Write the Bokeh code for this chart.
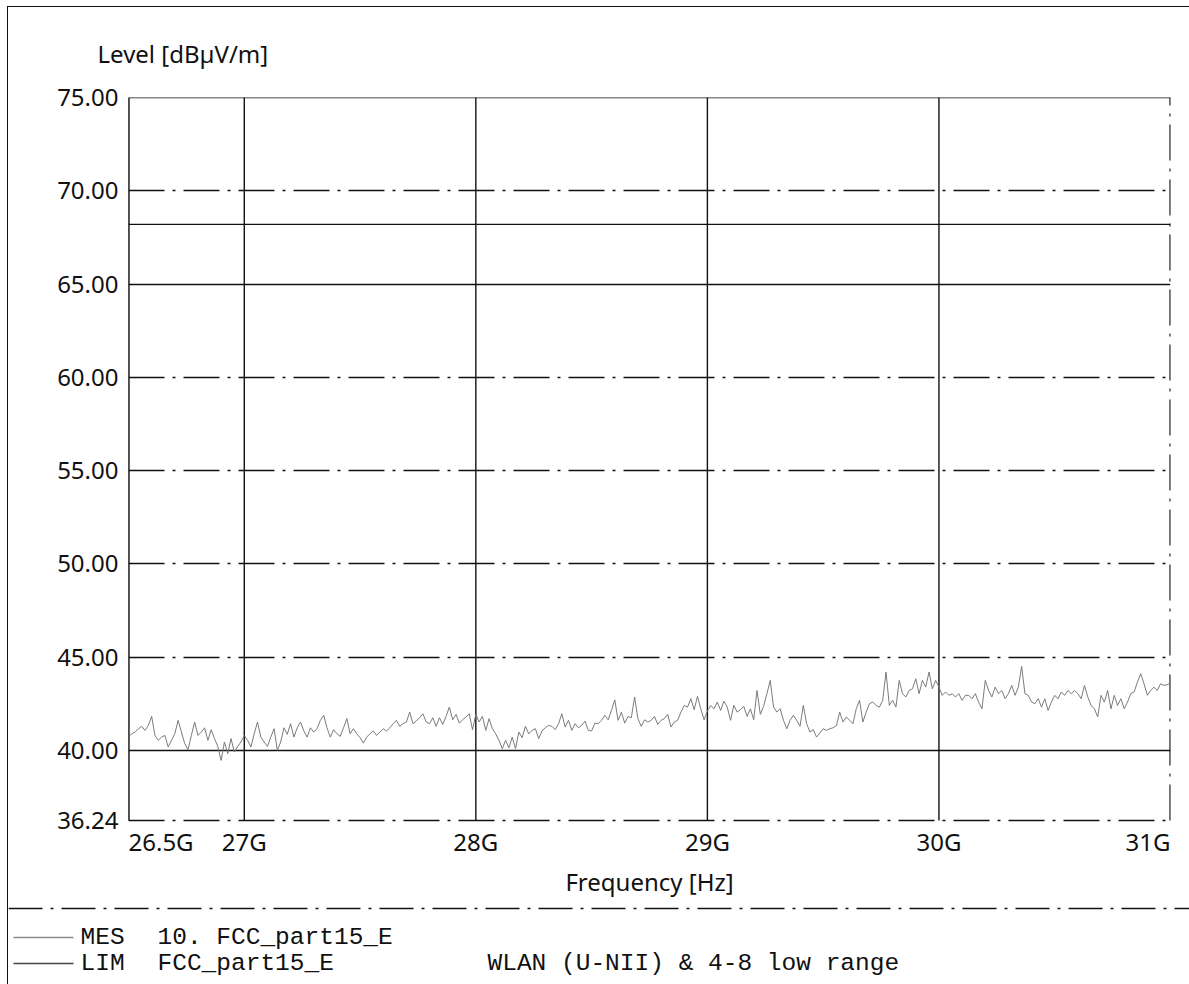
import numpy as np
from bokeh.plotting import figure
from bokeh.models import Range1d, FixedTicker, Grid, Span, PrintfTickFormatter
from bokeh.layouts import column
from bokeh.embed import file_html
from bokeh.resources import INLINE
from bokeh.core.properties import value

# ---- sweep data -------------------------------------------------------------
f_start, f_stop = 26.5, 31.0          # GHz, sweep limits (evenly spaced points)

mes_level = [
    40.71, 40.90, 40.98, 41.16, 41.29, 41.07, 41.34, 41.82, 40.80, 40.54,
    40.71, 40.80, 40.18, 40.54, 40.89, 41.61, 40.98, 40.36, 40.04, 40.80,
    41.52, 40.80, 40.98, 41.21, 40.54, 41.11, 40.63, 40.21, 39.46, 40.45,
    39.82, 40.63, 39.91, 40.21, 40.45, 40.80, 40.54, 40.18, 40.89, 41.52,
    40.71, 40.45, 40.21, 40.71, 41.16, 40.00, 40.45, 41.21, 40.86, 41.43,
    40.71, 41.21, 41.52, 41.04, 40.71, 41.21, 40.98, 41.16, 41.61, 41.88,
    41.21, 40.71, 41.11, 40.89, 40.75, 41.21, 41.70, 40.89, 41.16, 40.89,
    40.68, 40.39, 40.71, 40.89, 41.04, 40.80, 40.98, 41.16, 41.04, 41.21,
    41.43, 41.61, 41.29, 41.43, 41.52, 42.05, 41.43, 41.57, 41.75, 41.96,
    41.52, 41.43, 41.75, 41.29, 41.75, 41.39, 41.82, 42.32, 41.64, 41.93,
    41.46, 41.64, 41.79, 41.96, 41.11, 41.93,
    41.52, 41.82, 41.07, 41.70, 41.16, 40.89, 40.54, 40.09, 40.54, 40.14,
    40.71, 40.09, 40.98, 40.68, 41.29, 40.89, 41.07, 41.16, 40.63, 41.04,
    41.21, 41.34, 41.29, 41.11, 41.43, 41.96, 41.25, 41.61, 41.07, 41.43,
    41.21, 41.34, 41.57, 41.07, 41.04, 41.46, 41.43, 41.61, 41.88, 41.64,
    42.14, 42.71, 41.61, 42.05, 41.46, 41.82, 41.75, 42.86, 41.70, 41.29,
    41.64, 41.52, 41.61, 41.82, 41.39, 41.61, 41.70, 41.93, 41.25, 41.52,
    41.61, 42.05, 42.41, 42.32, 42.77, 42.18, 42.89, 42.23, 41.64, 42.11,
    42.41, 42.23, 42.59, 42.14, 42.64, 42.32, 41.61, 42.41, 42.05, 42.18,
    42.36, 41.82, 42.23, 41.64, 43.21, 41.93, 42.36, 43.04, 43.75, 42.32,
    42.05, 42.23, 41.61, 41.16, 41.61, 41.88, 41.61, 41.29, 42.41, 41.43,
    40.98, 41.11, 40.71, 40.93, 41.16,
    41.07, 41.16, 41.21, 41.32, 42.05, 41.52, 41.79, 41.61, 41.43, 42.23,
    42.68, 41.52, 42.05, 42.50, 42.59, 42.41, 42.32, 42.68, 44.20, 42.41,
    42.68, 42.32, 43.75, 43.04, 42.86, 43.21, 43.30, 43.84, 43.04, 43.75,
    43.39, 44.20, 43.30, 43.75, 43.39, 42.95, 43.13, 42.95, 43.04, 42.86,
    43.04, 42.68, 42.95, 42.95, 42.77, 43.04, 42.59, 42.23, 43.75, 43.21,
    42.86, 43.39, 43.04, 43.21, 42.77, 43.04, 43.48, 42.95, 43.39, 44.50,
    43.04, 42.95, 42.59, 42.50, 42.77, 42.32, 42.77, 42.14, 42.59, 42.95,
    42.77, 43.13, 42.95, 43.21, 43.04, 43.21, 43.04, 42.77, 43.48, 42.86,
    42.41, 42.23, 41.79, 42.95, 42.59, 43.21, 42.23, 42.95, 42.41, 42.77,
    42.23, 42.59, 43.04, 43.13, 43.66, 44.11, 43.57, 42.95, 43.21, 43.39,
    43.21, 43.57, 43.48, 43.52, 43.60,
]
mes_freq = np.linspace(f_start, f_stop, len(mes_level))

# limit line (FCC part 15 E)
lim_freq = [26.5, 31.0]
lim_level = [68.2, 68.2]

# axes
y_min, y_max = 36.24, 75.0
y_ticks = [36.24, 40, 45, 50, 55, 60, 65, 70, 75]
x_ticks = [26.5, 27, 28, 29, 30, 31]
x_tick_labels = ["26.5G", "27G", "28G", "29G", "30G", "31G"]
grid_solid_x = [26.5, 27, 28, 29, 30]
grid_dashed_x = [31]
grid_solid_y = [40, 65]
grid_dashed_y = [45, 50, 55, 60, 70]

INK = "#111111"
SANS = "Noto Sans"
MONO = "Liberation Mono"
DASH = "36 8 3 8"
LW = 1.4

# pixel layout of the chart block
FRAME_TOP, PLOT_BOTTOM, FRAME_BOTTOM = 90, 813, 855   # inside the chart figure
CH_W, CH_H = 1181, 898
px_per_db = (PLOT_BOTTOM - FRAME_TOP) / (y_max - y_min)
y_lo = y_min - (FRAME_BOTTOM - PLOT_BOTTOM) / px_per_db   # room for the tick-label row

# ---- chart ------------------------------------------------------------------
p = figure(width=CH_W, height=CH_H,
           x_range=Range1d(f_start, f_stop), y_range=Range1d(y_lo, y_max),
           output_backend="svg", toolbar_location=None,
           min_border_left=120, min_border_right=19,
           min_border_top=FRAME_TOP, min_border_bottom=CH_H - FRAME_BOTTOM)
p.frame_align = False
p.outline_line_color = None
p.xgrid.visible = False
p.ygrid.visible = False

p.title.text = "Level [dBµV/m]"
p.title.align = "left"
p.title.offset = -31
p.title.standoff = 55
p.title.text_font = SANS
p.title.text_font_size = "24px"
p.title.text_font_style = "normal"
p.title.text_color = INK

for ax in (p.xaxis[0], p.yaxis[0]):
    ax.axis_line_color = None
    ax.major_tick_line_color = None
    ax.minor_tick_line_color = None
    ax.major_tick_out = 0
    ax.major_tick_in = 0
    ax.minor_tick_out = 0
    ax.major_label_text_font = SANS
    ax.major_label_text_font_size = "24px"
    ax.major_label_text_color = INK

p.xaxis.ticker = FixedTicker(ticks=[])
p.xaxis.axis_label = "Frequency [Hz]"
p.xaxis.axis_label_text_font = SANS
p.xaxis.axis_label_text_font_size = "24px"
p.xaxis.axis_label_text_font_style = "normal"
p.xaxis.axis_label_text_color = INK
p.xaxis.axis_label_standoff = 2

p.yaxis.ticker = FixedTicker(ticks=y_ticks)
p.yaxis.formatter = PrintfTickFormatter(format="%.2f")
p.yaxis.major_label_standoff = 10

# horizontal grid lines
p.add_layout(Grid(dimension=1, ticker=FixedTicker(ticks=grid_solid_y),
                  grid_line_color=INK, grid_line_width=LW))
p.add_layout(Grid(dimension=1, ticker=FixedTicker(ticks=grid_dashed_y),
                  grid_line_color=INK, grid_line_width=LW, grid_line_dash=DASH))
p.add_layout(Span(location=y_max, dimension="width", line_color=INK, line_width=LW))
p.add_layout(Span(location=y_min, dimension="width", line_color=INK, line_width=LW,
                  line_dash=DASH))

# vertical grid lines, limited to the level span
p.segment(x0=grid_solid_x, y0=[y_min] * len(grid_solid_x),
          x1=grid_solid_x, y1=[y_max] * len(grid_solid_x),
          line_color=INK, line_width=LW)
p.segment(x0=grid_dashed_x, y0=[y_min] * len(grid_dashed_x),
          x1=grid_dashed_x, y1=[y_max] * len(grid_dashed_x),
          line_color=INK, line_width=2.2, line_dash=DASH)
p.segment(x0=[f_start], y0=[y_min], x1=[f_start], y1=[y_max],
          line_color=INK, line_width=2.2)

# traces
p.line(lim_freq, lim_level, line_color=INK, line_width=LW)
p.line(mes_freq, mes_level, line_color="#747474", line_width=0.95)

# frequency tick labels: first one flush left, last one flush right
tick_style = dict(text_font=value(SANS), text_font_size="24px", text_color=INK,
                  text_baseline="middle", y_offset=21)
p.text(x=x_ticks[:1], y=[y_min], text=x_tick_labels[:1], text_align="left", **tick_style)
p.text(x=x_ticks[1:-1], y=[y_min] * (len(x_ticks) - 2), text=x_tick_labels[1:-1],
       text_align="center", **tick_style)
p.text(x=x_ticks[-1:], y=[y_min], text=x_tick_labels[-1:], text_align="right", **tick_style)

# ---- legend block -------------------------------------------------------------
W, H = CH_W, 79
lg = figure(width=W, height=H, x_range=Range1d(0, W), y_range=Range1d(H, 0),
            output_backend="svg", toolbar_location=None,
            x_axis_location=None, y_axis_location=None,
            min_border_left=0, min_border_right=0, min_border_top=0, min_border_bottom=0)
lg.frame_align = False
lg.outline_line_color = None
lg.xgrid.visible = False
lg.ygrid.visible = False
lg.add_layout(Span(location=3, dimension="width", line_color=INK, line_width=LW,
                   line_dash="34 8 3 8"))

row_y = [32, 58]
lg.line([5, 65], [row_y[0], row_y[0]], line_color="#8c8c8c", line_width=1.3)
lg.line([5, 65], [row_y[1], row_y[1]], line_color="#444444", line_width=1.3)
lg.text(x=[72, 149, 72, 149, 479],
        y=[row_y[0], row_y[0], row_y[1], row_y[1], row_y[1]],
        text=["MES", "10. FCC_part15_E", "LIM", "FCC_part15_E",
              "WLAN (U-NII) & 4-8 low range"],
        text_font=value(MONO), text_font_size="24.5px", text_color=INK,
        text_baseline="middle", text_align="left")

page = column(p, lg, styles={"margin-left": "7px", "margin-top": "6px",
                             "border-left": "1px solid #111",
                             "border-top": "1px solid #111"})

open("out.html", "w").write(file_html(page, INLINE))
